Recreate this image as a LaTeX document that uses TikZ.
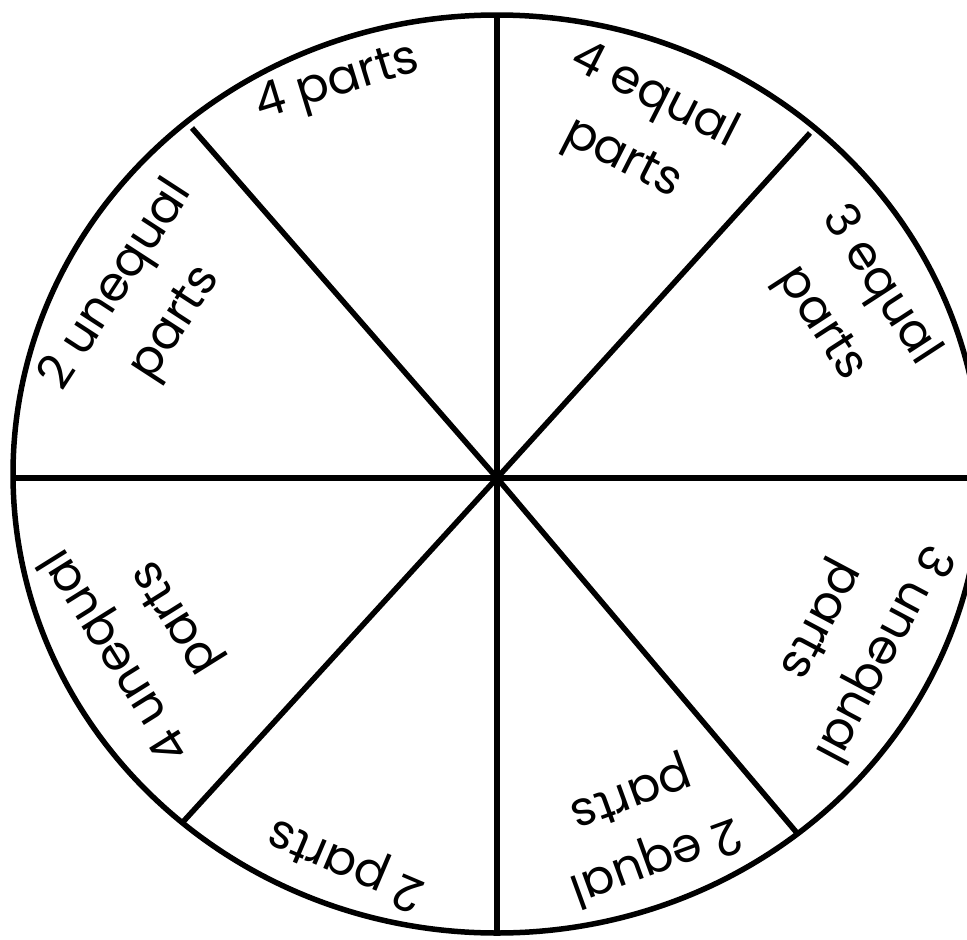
\documentclass[tikz,border=0pt]{standalone}
\usepackage{fontspec}
\setmainfont{Poppins}

\tikzset{
  wedge/.style={line width=5.5pt},
  lbl/.style={font=\fontsize{48}{70}\selectfont,align=center,inner sep=0pt}
}

\begin{document}
\begin{tikzpicture}[x=1pt,y=-1pt]
  \def\cx{497}   % centre of the wheel
  \def\cy{478}
  \useasboundingbox (0,0) rectangle (967,940);
  \clip (0,0) rectangle (967,940);

  % rim
  \draw[wedge] (\cx,474) ellipse [x radius=484, y radius=459];

  % spokes
  \coordinate (o) at (\cx,\cy);
  \coordinate (n)  at (\cx,15);
  \coordinate (s)  at (\cx,933);
  \coordinate (w)  at (14,\cy);
  \coordinate (e)  at (980,\cy);
  \coordinate (nw) at (192,128);
  \coordinate (ne) at (810,133);
  \coordinate (sw) at (182,823);
  \coordinate (se) at (797,833);
  \foreach \p in {n,s,w,e,nw,ne,sw,se}
    \draw[wedge] (o) -- (\p);

  % sector labels
  \node[lbl,rotate=17]  (p4)  at (338,84)  {4 parts};
  \node[lbl,rotate=-27] (eq4) at (638,128) {4 equal\\parts};
  \node[lbl,rotate=-57] (eq3) at (850,305) {3 equal\\parts};
  \node[lbl,rotate=57]  (un2) at (147,305) {2 unequal\\parts};
  \node[lbl,rotate=122] (un4) at (147,636) {4 unequal\\parts};
  \node[lbl,rotate=157] (p2)  at (347,862) {2 parts};
  \node[lbl,rotate=200] (eq2) at (643,826) {2 equal\\parts};
  \node[lbl,rotate=242] (un3) at (850,636) {3 unequal\\parts};
\end{tikzpicture}
\end{document}
